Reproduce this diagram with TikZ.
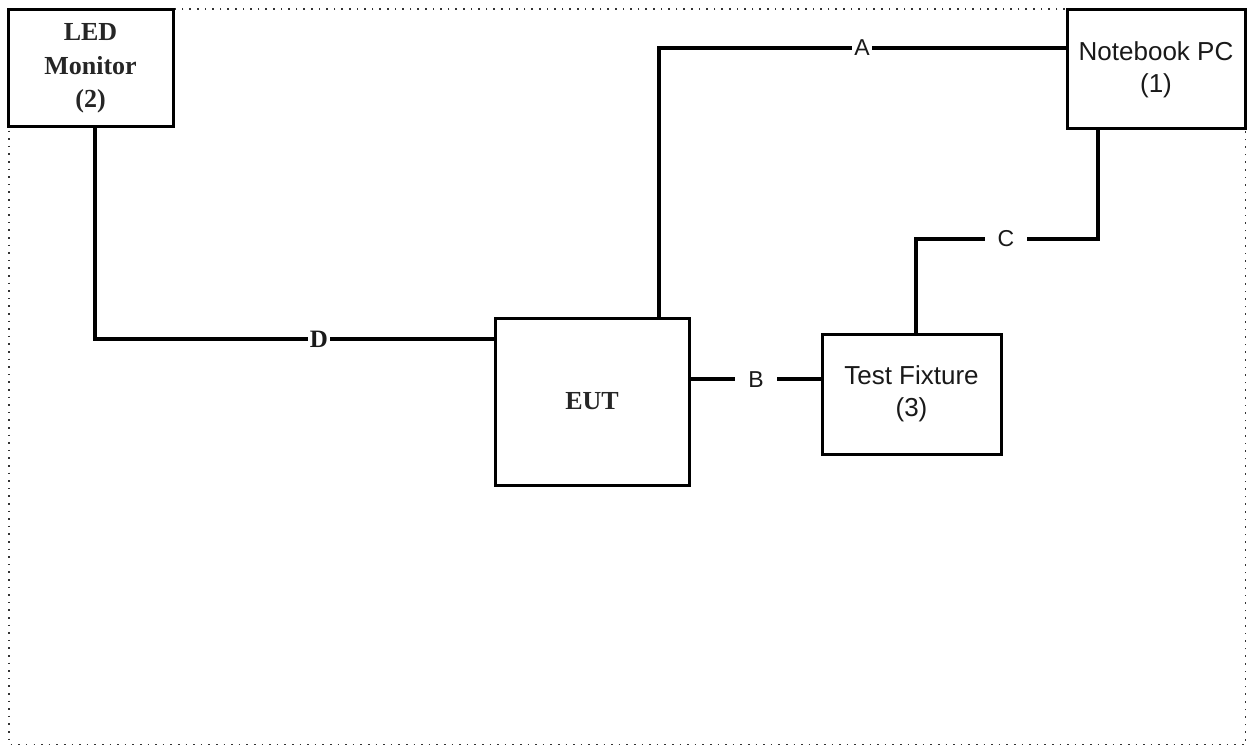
\documentclass[tikz,border=0pt]{standalone}
\usepackage{fontspec}
\setmainfont{Liberation Serif}
\newfontfamily\arial{Liberation Sans}
\begin{document}
\begin{tikzpicture}[x=1pt,y=-1pt,
  box/.style={draw=black,line width=3pt,fill=white,inner sep=0pt,align=center},
  serifbox/.style={box,font=\fontsize{26}{33.5}\selectfont\bfseries,text=black!85},
  sansbox/.style={box,font=\arial\fontsize{26}{32}\selectfont,text=black!90},
  wire/.style={line width=3.2pt,line cap=rect},
  lbl/.style={fill=white,inner ysep=1pt,text=black!90},
  border/.style={draw=black!80,line width=1.6pt,dash pattern=on 1.6pt off 6pt}]
\useasboundingbox (0,0) rectangle (1247,746);
\draw[border] (9,9) rectangle (1245.5,744.5);
% nodes
\node[serifbox,minimum width=165pt,minimum height=117pt] (led) at (90.5,68.5) {LED\\Monitor\\(2)};
\node[sansbox,minimum width=178pt,minimum height=119pt] (pc) at (1156,69.5) {Notebook PC\\(1)};
\node[serifbox,minimum width=194pt,minimum height=167pt] (eut) at (592,401.5) {EUT};
\node[sansbox,minimum width=179pt,minimum height=120pt] (tf) at (911.5,394) {Test Fixture\\(3)};
% corner coordinates
\coordinate (cA) at (659,48);
\coordinate (cD) at (95,339);
\coordinate (cB) at (700,379);
\coordinate (cC1) at (916,239);
\coordinate (cC2) at (1098,239);
% connectors
\draw[wire] (cA |- eut.north) -- (cA) -- (cA -| pc.west);
\draw[wire] (cD |- led.south) -- (cD) -- (cD -| eut.west);
\draw[wire] (cB -| eut.east) -- (cB -| tf.west);
\draw[wire] (cC1 |- tf.north) -- (cC1) -- (cC2) -- (cC2 |- pc.south);
% labels
\node[lbl,font=\arial\fontsize{23}{23}\selectfont,inner xsep=2pt] (la) at (862,48) {A};
\node[lbl,font=\arial\fontsize{23}{23}\selectfont,inner xsep=13pt] (lb) at (756,380) {B};
\node[lbl,font=\arial\fontsize{23}{23}\selectfont,inner xsep=13pt] (lc) at (1006,239) {C};
\node[lbl,font=\fontsize{25}{25}\selectfont\bfseries,inner xsep=1.5pt] (ld) at (319,339) {D};
\end{tikzpicture}
\end{document}
